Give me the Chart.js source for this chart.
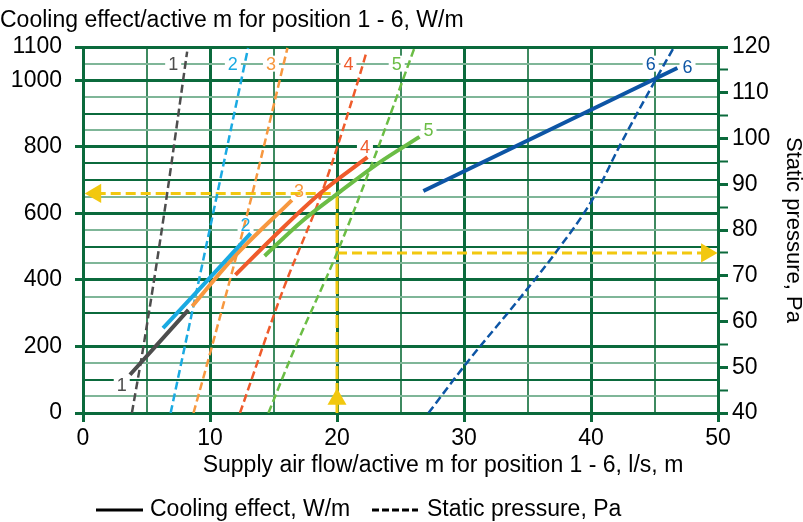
<!DOCTYPE html>
<html>
<head>
<meta charset="utf-8">
<script src="https://cdn.jsdelivr.net/npm/chart.js@4.4.1/dist/chart.umd.min.js"></script>
<style>
  html, body { margin: 0; padding: 0; background: #fff; }
</style>
</head>
<body>
<canvas id="chart" width="803" height="522"></canvas>
<script>
// Cooling effect per active m (solid lines, left axis, W/m)
const coolFlow1 = [3.7, 8.3];
const coolValue1 = [115, 310];
const coolFlow2 = [6.3, 10.0, 13.2];
const coolValue2 = [255, 407, 540];
const coolFlow3 = [8.6, 11.8, 16.45];
const coolValue3 = [321, 465, 640];
const coolFlow4 = [12.0, 15.0, 18.7, 22.4];
const coolValue4 = [415, 529, 661, 769];
const coolFlow5 = [14.3, 17.2, 20.1, 23.3, 26.5];
const coolValue5 = [472, 575, 661, 752, 830];
const coolFlow6 = [26.8, 46.8];
const coolValue6 = [667, 1037];

// Static pressure (dashed lines, right axis, Pa)
const pressFlow1 = [3.85, 4.75, 6.4, 8.2];
const pressValue1 = [40, 54.4, 83.7, 119];
const pressFlow2 = [6.9, 10.25, 13.0];
const pressValue2 = [40, 83.7, 119.8];
const pressFlow3 = [8.7, 10.05, 12.95, 16.1];
const pressValue3 = [40, 53.5, 83.7, 119.8];
const pressFlow4 = [12.36, 15.75, 18.8, 21.7, 22.3];
const pressValue4 = [40, 66.9, 88.1, 113, 118.7];
const pressFlow5 = [14.6, 16.5, 20.0, 23.1, 26.1];
const pressValue5 = [40, 53, 75, 97, 119.8];
const pressFlow6 = [27.2, 30.2, 34.4, 37.2, 40.1, 42.3, 45.2, 46.5];
const pressValue6 = [40, 50.9, 65.1, 75, 86.6, 98.6, 113.4, 119.8];

// reading example (yellow): 20 l/s -> 660 W/m and 75 Pa
const exampleFlow = 20;
const exampleCooling = 660;
const examplePressure = 75;

// tick labels
const leftTickLabels = [0, 200, 400, 600, 800, 1000, 1100];
const positionNames = ['1', '2', '3', '4', '5', '6'];

// where the number labels sit (data units)
const topLabelX = [7.1, 11.8, 14.8, 20.9, 24.7, 44.7];
const topLabelY = 1050;
const endLabelX = [3.05, 12.8, 17.0, 22.2, 27.2, 47.6];
const endLabelY = [85, 565, 667, 799, 850, 1040];

const colors = ['#4d4d4d', '#1aaae2', '#f7983f', '#ef5b2b', '#6bbd45', '#0d55a5'];
const yellow = '#f2c80f';
const gridDark = '#0b6a3c';
const gridMid = '#3e8a60';
const gridLight = '#7fb698';
const FONT = '"Liberation Sans", Arial, Helvetica, sans-serif';

Chart.defaults.font.family = FONT;
Chart.defaults.color = '#000';

function pairs(xs, ys) {
    return xs.map((x, i) => ({ x: x, y: ys[i] }));
}

const coolFlows = [coolFlow1, coolFlow2, coolFlow3, coolFlow4, coolFlow5, coolFlow6];
const coolValues = [coolValue1, coolValue2, coolValue3, coolValue4, coolValue5, coolValue6];
const pressFlows = [pressFlow1, pressFlow2, pressFlow3, pressFlow4, pressFlow5, pressFlow6];
const pressValues = [pressValue1, pressValue2, pressValue3, pressValue4, pressValue5, pressValue6];

const datasets = [];

// solid cooling lines (on top)
coolFlows.forEach((xs, i) => {
    datasets.push({
        label: 'Cooling ' + positionNames[i],
        data: pairs(xs, coolValues[i]),
        yAxisID: 'y',
        borderColor: colors[i],
        borderWidth: 4,
        pointRadius: 0,
        cubicInterpolationMode: 'monotone'
    });
});

// dashed pressure lines
pressFlows.forEach((xs, i) => {
    datasets.push({
        label: 'Pressure ' + positionNames[i],
        data: pairs(xs, pressValues[i]),
        yAxisID: 'y1',
        borderColor: colors[i],
        borderWidth: 2.5,
        borderDash: [8, 4],
        pointRadius: 0,
        cubicInterpolationMode: 'monotone'
    });
});

// yellow arrow heads
datasets.push({
    label: 'arrows left',
    data: [{ x: 1.0, y: exampleCooling }, { x: exampleFlow, y: 41 }],
    yAxisID: 'y',
    showLine: false,
    pointStyle: 'triangle',
    pointRadius: 11,
    pointRotation: [-90, 0],
    backgroundColor: yellow,
    borderWidth: 0
});
datasets.push({
    label: 'arrow right',
    data: [{ x: 49.1, y: examplePressure }],
    yAxisID: 'y1',
    showLine: false,
    pointStyle: 'triangle',
    pointRadius: 11,
    pointRotation: 90,
    backgroundColor: yellow,
    borderWidth: 0
});

// yellow guide lines
datasets.push({
    label: 'guide up',
    data: [{ x: exampleFlow, y: 0 }, { x: exampleFlow, y: exampleCooling }],
    yAxisID: 'y',
    borderColor: yellow,
    borderWidth: 3,
    borderDash: [13, 4],
    pointRadius: 0
});
datasets.push({
    label: 'guide left',
    data: [{ x: 1.0, y: exampleCooling }, { x: exampleFlow, y: exampleCooling }],
    yAxisID: 'y',
    borderColor: yellow,
    borderWidth: 3,
    borderDash: [10, 5],
    pointRadius: 0
});
datasets.push({
    label: 'guide right',
    data: [{ x: exampleFlow, y: examplePressure }, { x: 49.1, y: examplePressure }],
    yAxisID: 'y1',
    borderColor: yellow,
    borderWidth: 3,
    borderDash: [10, 5],
    pointRadius: 0
});

// number labels, titles and legend
const textPlugin = {
    id: 'textPlugin',
    beforeDatasetsDraw(chart) {
        const { ctx, scales: { x, y } } = chart;
        ctx.save();
        ctx.fillStyle = '#fff';
        topLabelX.forEach(v => {
            ctx.fillRect(x.getPixelForValue(v) - 8, y.getPixelForValue(topLabelY) - 8, 16, 16);
        });
        endLabelX.forEach((v, i) => {
            ctx.fillRect(x.getPixelForValue(v) - 8, y.getPixelForValue(endLabelY[i]) - 8, 16, 16);
        });
        ctx.restore();
    },
    afterDatasetsDraw(chart) {
        const { ctx, scales: { x, y } } = chart;
        ctx.save();
        ctx.font = '18px ' + FONT;
        ctx.textAlign = 'center';
        ctx.textBaseline = 'middle';
        positionNames.forEach((name, i) => {
            ctx.fillStyle = colors[i];
            ctx.fillText(name, x.getPixelForValue(topLabelX[i]), y.getPixelForValue(topLabelY) + 1);
            ctx.fillText(name, x.getPixelForValue(endLabelX[i]), y.getPixelForValue(endLabelY[i]) + 1);
        });
        ctx.restore();
    },
    afterDraw(chart) {
        const ctx = chart.ctx;
        ctx.save();
        ctx.fillStyle = '#000';
        ctx.font = '23px ' + FONT;
        ctx.textAlign = 'left';
        ctx.textBaseline = 'alphabetic';
        ctx.fillText('Cooling effect/active m for position 1 - 6, W/m', 0, 27);

        // x axis title (sits right of centre in the original)
        ctx.textAlign = 'center';
        ctx.textBaseline = 'middle';
        ctx.fillText('Supply air flow/active m for position 1 - 6, l/s, m', 443, 466);

        // legend
        ctx.textAlign = 'left';
        ctx.strokeStyle = '#000';
        ctx.lineWidth = 3;
        ctx.beginPath();
        ctx.moveTo(96, 510);
        ctx.lineTo(143, 510);
        ctx.stroke();
        ctx.fillText('Cooling effect, W/m', 150, 510);
        ctx.setLineDash([7, 3]);
        ctx.beginPath();
        ctx.moveTo(372, 510);
        ctx.lineTo(418, 510);
        ctx.stroke();
        ctx.setLineDash([]);
        ctx.fillText('Static pressure, Pa', 427, 510);
        ctx.restore();
    }
};

new Chart(document.getElementById('chart'), {
    type: 'line',
    data: { datasets: datasets },
    plugins: [textPlugin],
    options: {
        responsive: false,
        animation: false,
        devicePixelRatio: 1,
        layout: { padding: { top: 47, left: 0, right: 0, bottom: 0 } },
        plugins: {
            legend: { display: false },
            tooltip: { enabled: false }
        },
        scales: {
            x: {
                type: 'linear',
                min: 0,
                max: 50,
                ticks: {
                    stepSize: 5,
                    autoSkip: false,
                    maxRotation: 0,
                    padding: 3,
                    font: { size: 23 },
                    callback: v => (v % 10 === 0 ? v : '')
                },
                grid: {
                    color: c => (c.tick.value % 10 === 0 ? gridDark : gridMid),
                    lineWidth: c => (c.tick.value % 10 === 0 ? 3 : 2),
                    tickLength: 9,
                    tickColor: c => (c.tick.value % 10 === 0 ? gridDark : 'rgba(0,0,0,0)'),
                    tickWidth: 3
                },
                border: { color: gridDark, width: 3 },
                afterFit: s => { s.height = 109; }
            },
            y: {
                position: 'left',
                min: 0,
                max: 1100,
                ticks: {
                    stepSize: 50,
                    autoSkip: false,
                    padding: 13,
                    font: { size: 23 },
                    callback: v => (leftTickLabels.includes(v) ? v : '')
                },
                grid: {
                    color: c => {
                        const v = c.tick.value;
                        if (v === 250) return 'rgba(0,0,0,0)';
                        return (v % 100 === 0 || v === 750) ? gridDark : gridLight;
                    },
                    lineWidth: c => {
                        const v = c.tick.value;
                        return (v % 200 === 0 || v === 1100) ? 3 : 2;
                    },
                    tickLength: 8,
                    tickColor: c => (leftTickLabels.includes(c.tick.value) ? gridDark : 'rgba(0,0,0,0)'),
                    tickWidth: 3
                },
                border: { color: gridDark, width: 3 },
                afterFit: s => { s.width = 83; }
            },
            y1: {
                position: 'right',
                min: 40,
                max: 120,
                ticks: {
                    stepSize: 5,
                    autoSkip: false,
                    padding: 4,
                    font: { size: 23 },
                    callback: v => (v % 10 === 0 ? v : '')
                },
                grid: {
                    drawOnChartArea: false,
                    tickLength: 10,
                    tickColor: gridDark,
                    tickWidth: c => (c.tick.value % 10 === 0 ? 3 : 2)
                },
                border: { color: gridDark, width: 3 },
                title: {
                    display: true,
                    text: 'Static pressure, Pa',
                    font: { size: 22, lineHeight: 0.9 },
                    padding: 0
                },
                afterFit: s => { s.width = 85; }
            }
        }
    }
});
</script>
</body>
</html>
